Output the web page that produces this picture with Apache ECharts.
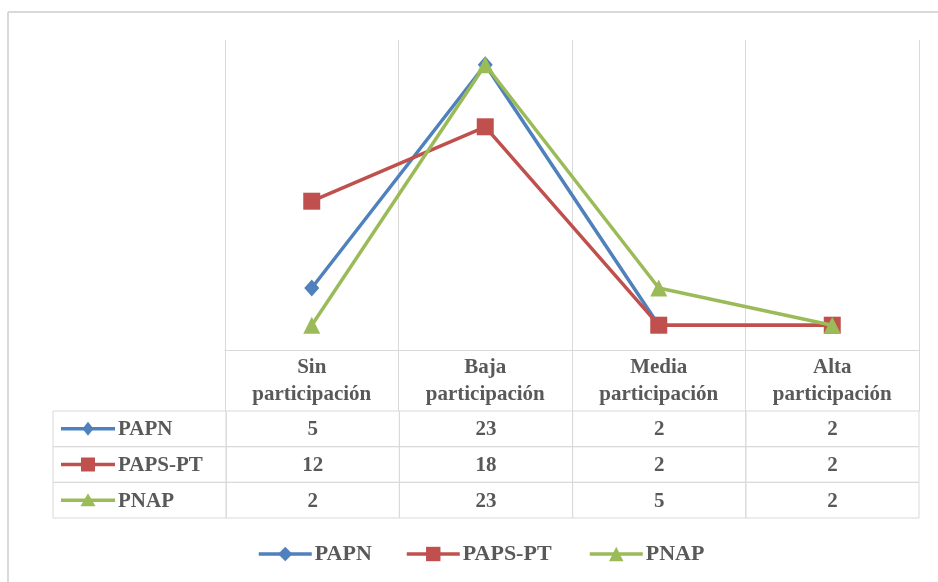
<!DOCTYPE html>
<html><head><meta charset="utf-8">
<script src="https://cdn.jsdelivr.net/npm/echarts@6/dist/echarts.min.js"></script>
<style>html,body{margin:0;padding:0;background:#fff}#c{width:938px;height:582px}</style>
</head><body><div id="c"></div>
<script>
// ---- data ----
const categories = ['Sin\nparticipación', 'Baja\nparticipación', 'Media\nparticipación', 'Alta\nparticipación'];
const seriesNames = ['PAPN', 'PAPS-PT', 'PNAP'];
const papn = [5, 23, 2, 2];
const papsPt = [12, 18, 2, 2];
const pnap = [2, 23, 5, 2];
const yRange = [0, 25];

// ---- styles ----
const values = [papn, papsPt, pnap];
const colors = ['#4F81BD', '#C0504D', '#9BBB59'];
const symbols = ['diamond', 'rect', 'triangle'];
const symbolSizes = [[15, 17], 17, 17];
const legendLefts = [257, 405, 588];
const FONT = 'Liberation Serif';
const TXT = '#595959';
const GRIDC = '#d9d9d9';

const chart = echarts.init(document.getElementById('c'), null, {renderer: 'canvas'});

// table cells built from the arrays
const tableCells = [];
const tableTexts = [];
seriesNames.forEach((n, r) => {
  tableCells.push([0, r]); tableTexts.push({kind: 'head', r: r, text: n});
  values[r].forEach((v, c) => { tableCells.push([c + 1, r]); tableTexts.push({kind: 'val', r: r, text: String(v)}); });
});

function iconShape(r, cx, cy) {
  if (r === 0) {
    const h = 7, w = 5.5;
    return {type: 'polygon', shape: {points: [[cx, cy - h], [cx + w, cy], [cx, cy + h], [cx - w, cy]]}, style: {fill: colors[r]}};
  } else if (r === 1) {
    return {type: 'rect', shape: {x: cx - 7, y: cy - 7, width: 14, height: 14}, style: {fill: colors[r]}};
  }
  return {type: 'polygon', shape: {points: [[cx, cy - 7], [cx + 7.5, cy + 6], [cx - 7.5, cy + 6]]}, style: {fill: colors[r]}};
}

function renderCell(params, api) {
  const col = api.value(0), row = api.value(1);
  const p = api.coord([col, row]);
  const s = api.size([1, 1]);
  const x0 = p[0] - s[0] / 2, y0 = p[1] - s[1] / 2;
  const info = tableTexts[params.dataIndex];
  const children = [{
    type: 'rect', shape: {x: x0, y: y0, width: s[0], height: s[1]},
    style: {fill: 'none', stroke: GRIDC, lineWidth: 1}
  }];
  const font = 'bold 21px "' + FONT + '"';
  if (info.kind === 'head') {
    children.push({type: 'line', shape: {x1: x0 + 8, y1: p[1], x2: x0 + 62, y2: p[1]},
      style: {stroke: colors[info.r], lineWidth: 3.5}});
    children.push(iconShape(info.r, x0 + 35, p[1]));
    children.push({type: 'text', style: {text: info.text, x: x0 + 65, y: p[1] + 1, align: 'left', verticalAlign: 'middle', font: font, fill: TXT}});
  } else {
    children.push({type: 'text', style: {text: info.text, x: p[0], y: p[1] + 1, align: 'center', verticalAlign: 'middle', font: font, fill: TXT}});
  }
  return {type: 'group', children: children};
}

const option = {
  animation: false,
  backgroundColor: '#fff',
  graphic: [
    {type: 'line', shape: {x1: 8, y1: 12, x2: 938, y2: 12}, style: {stroke: '#d9d9d9', lineWidth: 2}},
    {type: 'line', shape: {x1: 8, y1: 12, x2: 8, y2: 582}, style: {stroke: '#d9d9d9', lineWidth: 2}}
  ],
  grid: [
    {left: 225, right: 19, top: 40, bottom: 232},
    {left: 53, right: 19, top: 411, bottom: 64}
  ],
  xAxis: [
    {
      type: 'category', gridIndex: 0, data: categories, boundaryGap: true,
      axisLine: {show: true, lineStyle: {color: GRIDC, width: 1}},
      axisTick: {show: true, length: 61, lineStyle: {color: GRIDC, width: 1}},
      splitLine: {show: true, lineStyle: {color: GRIDC, width: 1}},
      axisLabel: {interval: 0, margin: 4, color: TXT, fontFamily: FONT, fontWeight: 'bold', fontSize: 21, lineHeight: 27}
    },
    {
      type: 'category', gridIndex: 1, data: ['', ...categories], boundaryGap: true, show: false
    }
  ],
  yAxis: [
    {type: 'value', gridIndex: 0, min: yRange[0], max: yRange[1], show: false},
    {type: 'category', gridIndex: 1, data: seriesNames, inverse: true, show: false}
  ],
  legend: seriesNames.map((n, i) => ({
    data: [n], left: legendLefts[i], top: 543, padding: 0, itemWidth: 53, itemHeight: 18,
    lineStyle: {width: 3.5},
    textStyle: {color: TXT, fontFamily: FONT, fontWeight: 'bold', fontSize: 22, padding: [0, 0, 0, -2]}
  })),
  series: [
    ...seriesNames.map((n, i) => ({
      name: n, type: 'line', xAxisIndex: 0, yAxisIndex: 0, data: values[i],
      symbol: symbols[i], symbolSize: symbolSizes[i], showAllSymbol: true,
      itemStyle: {color: colors[i]}, lineStyle: {color: colors[i], width: 3.5}, z: 2 + i
    })),
    {
      type: 'custom', xAxisIndex: 1, yAxisIndex: 1, data: tableCells, renderItem: renderCell,
      encode: {x: 0, y: 1}, silent: true
    }
  ]
};
chart.setOption(option);
</script>
</body></html>
